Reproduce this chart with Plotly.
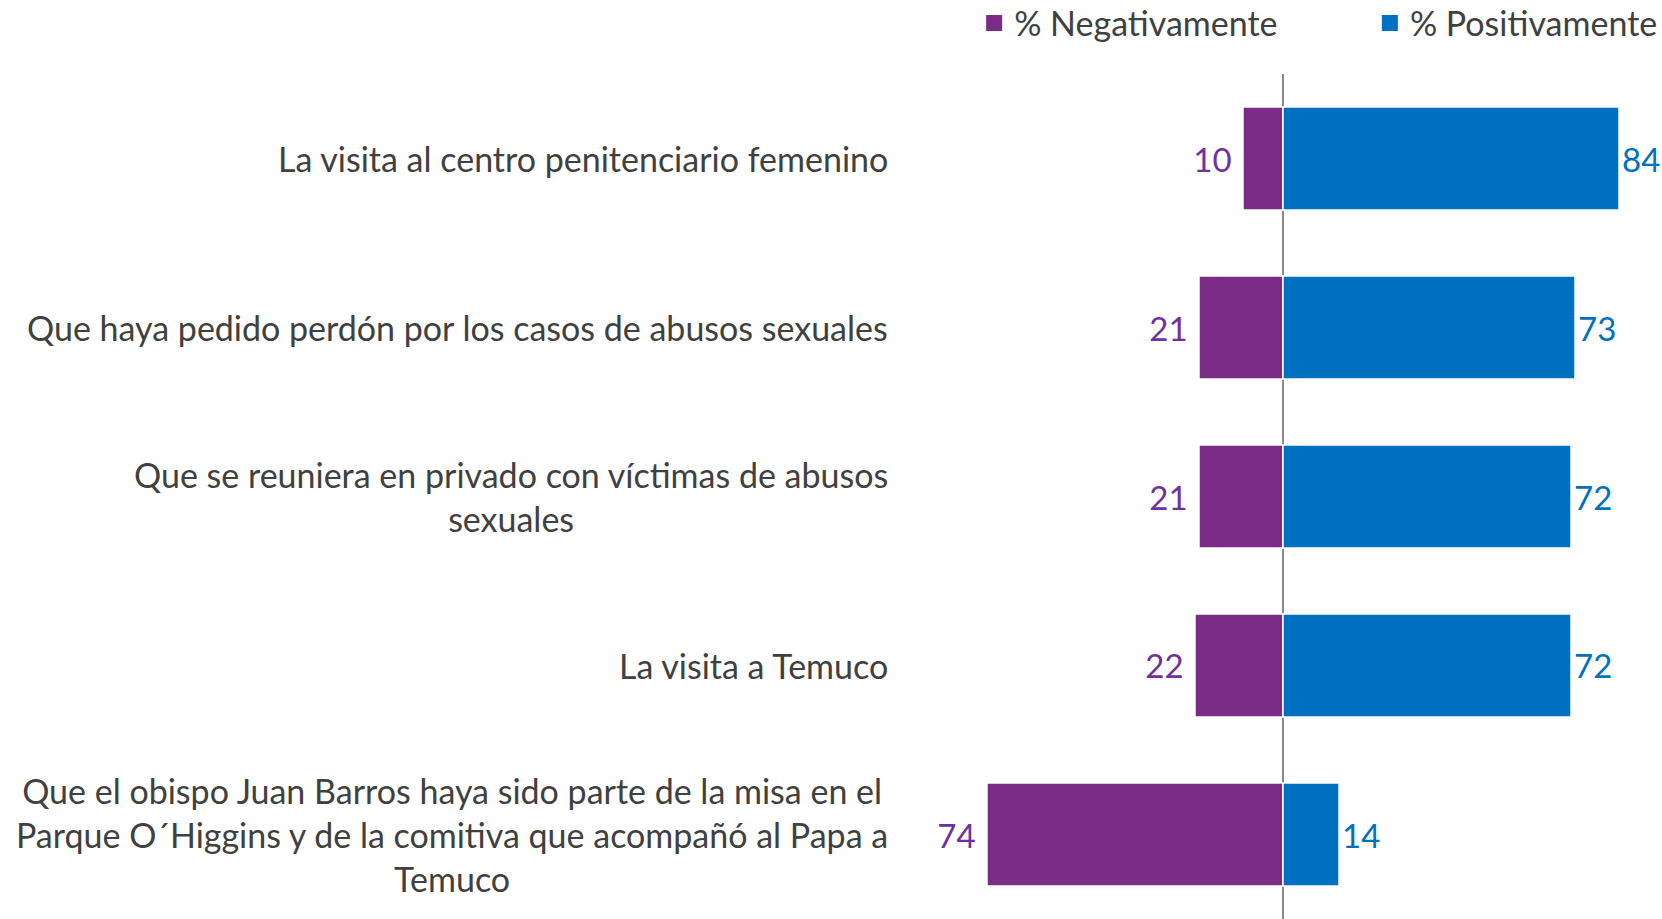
import plotly.graph_objects as go

categories = [
    "La visita al centro penitenciario femenino",
    "Que haya pedido perdón por los casos de abusos sexuales",
    "Que se reuniera en privado con víctimas de abusos<br>sexuales",
    "La visita a Temuco",
    "Que el obispo Juan Barros haya sido parte de la misa en el<br>Parque O´Higgins y de la comitiva que acompañó al Papa a<br>Temuco",
]
negativamente = [10, 21, 21, 22, 74]
positivamente = [84, 73, 72, 72, 14]
series_names = ["% Negativamente", "% Positivamente"]

PURPLE = "#7B2C87"
PURPLE_TXT = "#7030A0"
BLUE = "#0070C0"
FONT = "Lato"

fig = go.Figure()
fig.add_trace(go.Bar(
    y=categories, x=[-v for v in negativamente], orientation="h",
    name=series_names[0], marker=dict(color=PURPLE, line=dict(color="white", width=1.5)),
    text=[str(v) for v in negativamente], texttemplate="%{text}&nbsp;",
    textposition="outside", cliponaxis=False,
    textfont=dict(color=PURPLE_TXT, size=33, family=FONT), hoverinfo="skip",
    showlegend=False,
))
fig.add_trace(go.Bar(
    y=categories, x=positivamente, orientation="h",
    name=series_names[1], marker=dict(color=BLUE, line=dict(color="white", width=1.5)),
    text=[str(v) for v in positivamente], textposition="outside", cliponaxis=False,
    textfont=dict(color=BLUE, size=33, family=FONT), hoverinfo="skip",
    showlegend=False,
))
# legend entries (square swatches)
for name, col, leg in [(series_names[0], PURPLE, "legend"), (series_names[1], BLUE, "legend2")]:
    fig.add_trace(go.Scatter(
        x=[None], y=[None], mode="markers", name=name,
        marker=dict(symbol="square", size=16, color=col),
        legend=leg, showlegend=True, hoverinfo="skip",
    ))

for c in categories:
    fig.add_annotation(
        x=0, xref="paper", y=c, yref="y", text=c, showarrow=False,
        xanchor="right", align="center", xshift=7,
        font=dict(size=34, color="#404040", family=FONT),
    )

leg_common = dict(orientation="h", y=1.06, yanchor="middle", yref="paper",
                  font=dict(size=34, color="#404040", family=FONT),
                  itemclick=False, bgcolor="rgba(0,0,0,0)", itemsizing="trace")
fig.update_layout(
    width=1662, height=919,
    margin=dict(l=883, r=0, t=74, b=0, autoexpand=False),
    barmode="relative", bargap=0.39,
    plot_bgcolor="white", paper_bgcolor="white",
    showlegend=True,
    legend=dict(x=0.117, xanchor="left", **leg_common),
    legend2=dict(x=0.625, xanchor="left", **leg_common),
)
fig.update_xaxes(range=[-100, 94.75], showticklabels=False, showgrid=False,
                 zeroline=True, zerolinecolor="#888888", zerolinewidth=1.5, fixedrange=True)
fig.update_yaxes(showticklabels=False, showgrid=False, autorange="reversed", fixedrange=True)

fig.write_html("out.html", config={"displayModeBar": False},
               post_script="document.body.style.margin='0px';")
